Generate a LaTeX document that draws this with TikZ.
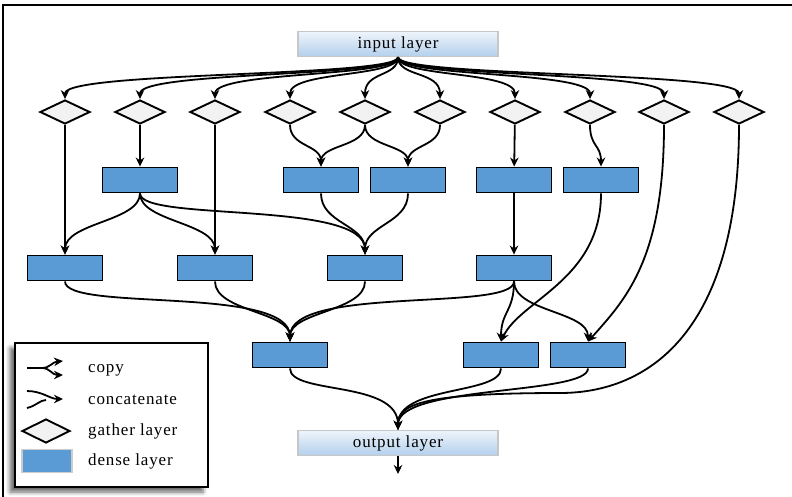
\documentclass[tikz,border=0pt]{standalone}
\usepackage{fontspec}
\setmainfont{Liberation Serif}
\newfontfamily\labelfont{Liberation Serif}[LetterSpace=5]
\usepackage{tikz}
\usetikzlibrary{positioning,arrows.meta,shapes.geometric,shadows.blur}
\definecolor{denseblue}{HTML}{5B9BD5}
\definecolor{gathergray}{HTML}{F2F2F2}
\definecolor{iotop}{HTML}{EEF4FB}
\definecolor{iobottom}{HTML}{B3D0EC}

\begin{document}
\begin{tikzpicture}[
    x=1pt, y=-1pt,
    font=\labelfont\fontsize{17}{19}\selectfont,
    gather/.style={diamond, draw=black, line width=1.9pt, fill=gathergray, minimum width=50pt, minimum height=24pt, inner sep=0pt},
    dense/.style={rectangle, draw=black, line width=1.9pt, fill=denseblue, minimum width=75pt, minimum height=25pt, inner sep=0pt},
    iolayer/.style={rectangle, draw=black!22, line width=1.4pt, top color=iotop, bottom color=iobottom, minimum width=200pt, minimum height=25pt, inner sep=0pt},
    link/.style={-{Stealth[length=9pt,width=8.5pt]}, line width=1.8pt},
    legtext/.style={anchor=west, inner sep=0pt},
]
\useasboundingbox (0,0) rectangle (792,496);
\draw[line width=1.8pt] (3,5) rectangle (800,510);

\node[iolayer] (input) at (398,44) {input layer};
\node[iolayer] (output) at (398,443) {output layer};
\coordinate (exit) at (398,474);

\node[gather] (g1) at (65,112) {};
\node[gather] (g2) at (140,112) {};
\node[gather] (g3) at (215,112) {};
\node[gather] (g4) at (290,112) {};
\node[gather] (g5) at (365,112) {};
\node[gather] (g6) at (440,112) {};
\node[gather] (g7) at (515,112) {};
\node[gather] (g8) at (590,112) {};
\node[gather] (g9) at (664,112) {};
\node[gather] (g10) at (739,112) {};

\node[dense] (b1) at (140,180) {};
\node[dense] (b2) at (321,180) {};
\node[dense] (b3) at (408,180) {};
\node[dense] (b4) at (514,180) {};
\node[dense] (b5) at (601,180) {};

\node[dense] (a1) at (65,268) {};
\node[dense] (a2) at (215,268) {};
\node[dense] (a3) at (365,268) {};
\node[dense] (a4) at (514,268) {};

\node[dense] (c1) at (290,355) {};
\node[dense] (c2) at (501,355) {};
\node[dense] (c3) at (588,355) {};

\foreach \g in {g1,g2,g3,g4,g5,g6,g7,g8,g9,g10}
    \draw[link] (input.south) .. controls +(0,20) and +(0,-28) .. (\g.north);

\draw[link] (g1) -- (a1);
\draw[link] (g2) -- (b1);
\draw[link] (g3) -- (a2);
\draw[link] (g4.south) .. controls +(0,22) and +(0,-22) .. (b2.north);
\draw[link] (g5.south) .. controls +(0,22) and +(0,-22) .. (b2.north);
\draw[link] (g5.south) .. controls +(0,22) and +(0,-22) .. (b3.north);
\draw[link] (g6.south) .. controls +(0,22) and +(0,-22) .. (b3.north);
\draw[link] (g7) -- (b4);
\draw[link] (g8.south) .. controls +(0,22) and +(0,-22) .. (b5.north);
\draw[link] (g9.south) .. controls (664,260) and (625,300) .. (c3.north);
\draw[link] (g10.south) .. controls (739,330) and (650,393) .. (560,393) .. controls (420,393) and (398,405) .. (output.north);

\draw[link] (b1.south) .. controls +(0,28) and +(0,-32) .. (a1.north);
\draw[link] (b1.south) .. controls +(0,28) and +(0,-32) .. (a2.north);
\draw[link] (b1.south) .. controls (140,222) and (365,200) .. (a3.north);
\draw[link] (b2.south) .. controls +(0,30) and +(0,-30) .. (a3.north);
\draw[link] (b3.south) .. controls +(0,30) and +(0,-30) .. (a3.north);
\draw[link] (b4) -- (a4);
\draw[link] (b5.south) .. controls (601,280) and (520,300) .. (c2.north);

\draw[link] (a1.south) .. controls (65,312) and (290,285) .. (c1.north);
\draw[link] (a2.south) .. controls +(0,30) and +(0,-30) .. (c1.north);
\draw[link] (a3.south) .. controls +(0,30) and +(0,-30) .. (c1.north);
\draw[link] (a4.south) .. controls (514,312) and (290,285) .. (c1.north);
\draw[link] (a4.south) .. controls +(0,30) and +(0,-30) .. (c2.north);
\draw[link] (a4.south) .. controls +(0,30) and +(0,-30) .. (c3.north);

\draw[link] (c1.south) .. controls (290,395) and (398,380) .. (output.north);
\draw[link] (c2.south) .. controls (501,395) and (398,385) .. (output.north);
\draw[link] (c3.south) .. controls (588,395) and (398,385) .. (output.north);
\draw[link] (output) -- (exit);

\node[draw=black, line width=1.6pt, fill=white, minimum width=193pt, minimum height=144pt, inner sep=0pt,
      blur shadow={shadow xshift=-5pt, shadow yshift=-5pt, shadow blur radius=4pt, shadow opacity=60}] (legend) at (111.5,415) {};
\coordinate (cpa) at (27,368);
\coordinate (cpb) at (42,368);
\coordinate (cpc) at (63,361);
\coordinate (cpd) at (63,375);
\draw[line width=1.8pt] (cpa) -- (cpb);
\draw[link] (cpb) .. controls (50,368) and (52,362) .. (cpc);
\draw[link] (cpb) .. controls (50,368) and (52,375) .. (cpd);
\node[legtext] (lcopy) at (88,370) {copy};
\coordinate (cca) at (27,391);
\coordinate (ccb) at (27,408);
\coordinate (ccm) at (46,400);
\coordinate (ccc) at (63,399);
\draw[link] (cca) .. controls (42,391) and (50,399) .. (ccc);
\draw[line width=1.8pt] (ccb) .. controls (36,406) and (40,400) .. (ccm);
\node[legtext] (lconcat) at (88,400) {concatenate};
\node[gather, minimum width=48pt] (lgather) at (46,431) {};
\node[legtext] (lgathertext) at (88,431) {gather layer};
\node[dense, draw=black!20, minimum width=50pt, minimum height=23pt] (ldense) at (47,461) {};
\node[legtext] (ldensetext) at (88,461) {dense layer};
\end{tikzpicture}
\end{document}
